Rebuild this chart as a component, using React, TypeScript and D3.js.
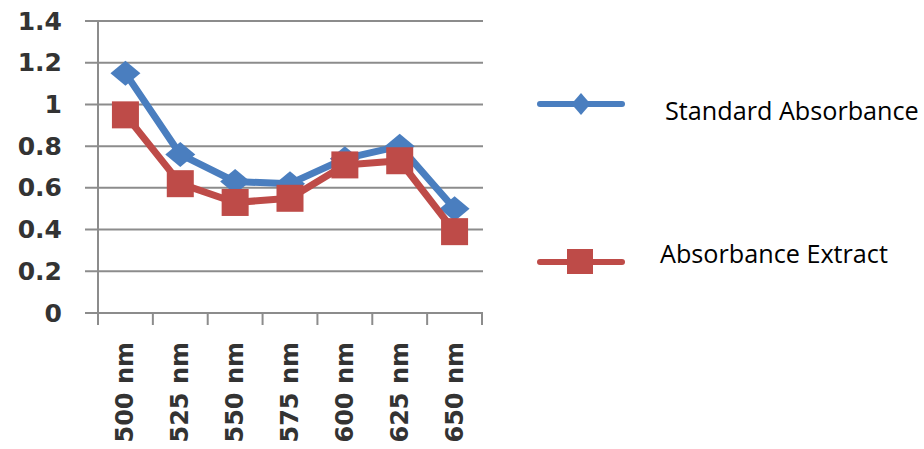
import React from "react";
import * as d3 from "d3";

const categories = ["500 nm", "525 nm", "550 nm", "575 nm", "600 nm", "625 nm", "650 nm"];
const standardAbsorbance = [1.15, 0.76, 0.63, 0.62, 0.74, 0.8, 0.5];
const absorbanceExtract = [0.95, 0.62, 0.53, 0.55, 0.71, 0.73, 0.39];
const yTicks = [0, 0.2, 0.4, 0.6, 0.8, 1, 1.2, 1.4];
const seriesNames = ["Standard Absorbance", "Absorbance Extract"];

const W = 924;
const H = 449;
const BLUE = "#4A7EBF";
const RED = "#BE4B48";
const GRID = "#8c8c8c";

function diamondPath(w: number, h: number) {
  const p = d3.path();
  p.moveTo(0, -h / 2);
  p.lineTo(w / 2, 0);
  p.lineTo(0, h / 2);
  p.lineTo(-w / 2, 0);
  p.closePath();
  return p.toString();
}

export default function App() {
  const x = d3.scaleBand<string>().domain(categories).range([98, 482]).padding(0);
  const y = d3.scaleLinear().domain([0, 1.4]).range([313, 21]);
  const cx = (c: string) => (x(c) as number) + x.bandwidth() / 2;
  const line = d3
    .line<number>()
    .x((_, i) => cx(categories[i]))
    .y((d) => y(d));

  const labelFont = "'DejaVu Sans', sans-serif";
  const plotDiamond = diamondPath(30, 25);
  const legendDiamond = diamondPath(19, 22);

  return (
    <svg
      width={W}
      height={H}
      style={{ position: "absolute", left: 0, top: 0, background: "#fff" }}
    >
      {yTicks.map((t) => (
        <line key={"g" + t} x1={85} x2={483} y1={y(t)} y2={y(t)} stroke={GRID} strokeWidth={2} />
      ))}
      <line x1={98} x2={98} y1={y(1.4)} y2={325} stroke={GRID} strokeWidth={2} />
      {[...categories.map((c) => x(c) as number), 482].map((v, i) => (
        <line key={"xt" + i} x1={v} x2={v} y1={y(0)} y2={325} stroke={GRID} strokeWidth={2} />
      ))}
      {yTicks.map((t) => (
        <text
          key={"yl" + t}
          x={62}
          y={y(t)}
          textAnchor="end"
          dominantBaseline="central"
          fontFamily={labelFont}
          fontWeight="bold"
          fontSize={25}
          fill="#333"
        >
          {d3.format("~g")(t)}
        </text>
      ))}
      {categories.map((c) => (
        <text
          key={"xl" + c}
          transform={`translate(${cx(c)},342) rotate(-90)`}
          textAnchor="end"
          dominantBaseline="central"
          fontFamily={labelFont}
          fontWeight="bold"
          fontSize={24}
          fill="#333"
        >
          {c}
        </text>
      ))}
      <path d={line(standardAbsorbance) || ""} fill="none" stroke={BLUE} strokeWidth={7} strokeLinejoin="round" />
      {standardAbsorbance.map((v, i) => (
        <path
          key={"sd" + i}
          d={plotDiamond}
          transform={`translate(${cx(categories[i])},${y(v)})`}
          fill={BLUE}
        />
      ))}
      <path d={line(absorbanceExtract) || ""} fill="none" stroke={RED} strokeWidth={7} strokeLinejoin="round" />
      {absorbanceExtract.map((v, i) => (
        <rect
          key={"ae" + i}
          x={cx(categories[i]) - 13.5}
          y={y(v) - 13.5}
          width={27}
          height={27}
          fill={RED}
        />
      ))}
      <line x1={540} x2={622} y1={104} y2={104} stroke={BLUE} strokeWidth={6} strokeLinecap="round" />
      <path d={legendDiamond} transform="translate(581,104)" fill={BLUE} />
      <text x={665} y={120} fontFamily="'Open Sans', sans-serif" fontSize={25.2} fill="#000">
        {seriesNames[0]}
      </text>
      <line x1={540} x2={622} y1={262} y2={262} stroke={RED} strokeWidth={6} strokeLinecap="round" />
      <rect x={567} y={249} width={26} height={25} fill={RED} />
      <text x={660} y={263} fontFamily="'Open Sans', sans-serif" fontSize={25.2} fill="#000">
        {seriesNames[1]}
      </text>
    </svg>
  );
}
